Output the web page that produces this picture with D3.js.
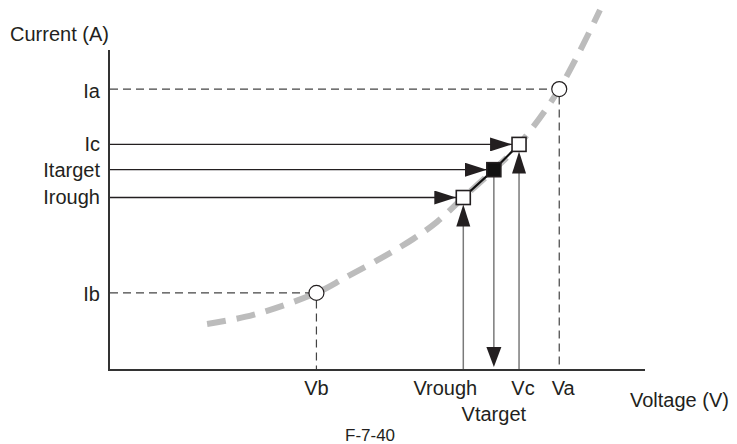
<!DOCTYPE html>
<html>
<head>
<meta charset="utf-8">
<script src="https://cdn.jsdelivr.net/npm/d3@7"></script>
<style>
  html, body { margin: 0; padding: 0; background: #fff; }
  svg { display: block; }
  text { font-family: "Liberation Sans", Arial, Helvetica, sans-serif; fill: #231f20; }
</style>
</head>
<body>
<script>
// Operating points on the V-I characteristic (arbitrary units 0-100)
const voltageNames = ["Vb", "Vrough", "Vtarget", "Vc", "Va"];
const voltageValues = [38.7, 66.1, 71.8, 76.5, 84.0];
const currentNames = ["Ib", "Irough", "Itarget", "Ic", "Ia"];
const currentValues = [24.1, 53.9, 62.6, 70.5, 87.8];

// Characteristic curve samples [voltage, current]
const curveVoltage = [18.3, 26.9, 38.7, 44.0, 51.1, 56.7, 61.2, 66.1, 71.8, 76.5, 84.0, 91.6];
const curveCurrent = [14.4, 17.2, 24.1, 28.8, 35.3, 40.9, 46.3, 53.9, 62.6, 70.5, 87.8, 112.5];

const axisTitles = { y: "Current (A)", x: "Voltage (V)" };
const figureId = "F-7-40";

const W = 737, H = 444;
const svg = d3.select("body").append("svg").attr("width", W).attr("height", H);

const x = d3.scaleLinear().domain([0, 100]).range([109, 645]);
const y = d3.scaleLinear().domain([0, 100]).range([370, 50]);

const V = Object.fromEntries(voltageNames.map((n, i) => [n, voltageValues[i]]));
const I = Object.fromEntries(currentNames.map((n, i) => [n, currentValues[i]]));

// arrowhead marker
const defs = svg.append("defs");
defs.append("marker")
  .attr("id", "head")
  .attr("viewBox", "0 0 22 14")
  .attr("refX", 22).attr("refY", 7)
  .attr("markerUnits", "userSpaceOnUse")
  .attr("markerWidth", 22).attr("markerHeight", 14)
  .attr("orient", "auto")
  .append("path").attr("d", "M0,0 L22,7 L0,14 Z").attr("fill", "#231f20");

// characteristic curve (thick grey dashes)
const curvePts = curveVoltage.map((v, i) => [v, curveCurrent[i]]);
svg.append("path")
  .datum(curvePts)
  .attr("d", d3.line().x(d => x(d[0])).y(d => y(d[1])).curve(d3.curveCatmullRom))
  .attr("fill", "none")
  .attr("stroke", "#bcbcbc")
  .attr("stroke-width", 6)
  .attr("stroke-dasharray", "19,11");

// dashed guides for the two reference points (a, b)
const refPairs = [["Va", "Ia"], ["Vb", "Ib"]];
const R = 7.5;
refPairs.forEach(([vn, in_]) => {
  const cx = x(V[vn]), cy = y(I[in_]);
  svg.append("line")
    .attr("x1", x(0) + 1).attr("x2", cx - R).attr("y1", cy).attr("y2", cy)
    .attr("stroke", "#444").attr("stroke-width", 1.2).attr("stroke-dasharray", "8,5");
  svg.append("line")
    .attr("x1", cx).attr("x2", cx).attr("y1", cy + R).attr("y2", y(0))
    .attr("stroke", "#444").attr("stroke-width", 1.2).attr("stroke-dasharray", "8,5");
});

// measured points: rough, target, c
const S = 14, half = S / 2;
const pts = [["Vrough", "Irough", false], ["Vtarget", "Itarget", true], ["Vc", "Ic", false]];

// horizontal arrows from the current axis
pts.forEach(([vn, in_]) => {
  const cy = y(I[in_]);
  svg.append("line")
    .attr("x1", x(0) + 1).attr("x2", x(V[vn]) - half).attr("y1", cy).attr("y2", cy)
    .attr("stroke", "#231f20").attr("stroke-width", 1.3)
    .attr("marker-end", "url(#head)");
});

// vertical arrows: rough and c pointing up from the voltage axis
[["Vrough", "Irough"], ["Vc", "Ic"]].forEach(([vn, in_]) => {
  const cx = x(V[vn]);
  svg.append("line")
    .attr("x1", cx).attr("x2", cx).attr("y1", y(0)).attr("y2", y(I[in_]) + half + 20)
    .attr("stroke", "#7a7a7a").attr("stroke-width", 1.5);
  svg.append("path")
    .attr("d", `M${cx - 7},${y(I[in_]) + half + 22} L${cx},${y(I[in_]) + half} L${cx + 7},${y(I[in_]) + half + 22} Z`)
    .attr("fill", "#231f20");
});

// target: down arrow to the voltage axis
{
  const cx = x(V.Vtarget);
  const top = y(I.Itarget) + half, tip = y(0) - 3;
  svg.append("line")
    .attr("x1", cx).attr("x2", cx).attr("y1", top).attr("y2", tip - 18)
    .attr("stroke", "#7a7a7a").attr("stroke-width", 1.5);
  svg.append("path")
    .attr("d", `M${cx - 7.5},${tip - 20} L${cx},${tip} L${cx + 7.5},${tip - 20} Z`)
    .attr("fill", "#231f20");
}

// segment joining the measured points
svg.append("path")
  .datum(pts)
  .attr("d", d3.line().x(d => x(V[d[0]])).y(d => y(I[d[1]])))
  .attr("fill", "none").attr("stroke", "#111").attr("stroke-width", 2.2);

// squares
svg.selectAll("rect.pt").data(pts).join("rect")
  .attr("class", "pt")
  .attr("x", d => x(V[d[0]]) - half).attr("y", d => y(I[d[1]]) - half)
  .attr("width", S).attr("height", S)
  .attr("fill", d => d[2] ? "#111" : "#fff")
  .attr("stroke", "#231f20").attr("stroke-width", 1.6);

// circles for reference points
svg.selectAll("circle.ref").data(refPairs).join("circle")
  .attr("class", "ref")
  .attr("cx", d => x(V[d[0]])).attr("cy", d => y(I[d[1]]))
  .attr("r", R).attr("fill", "#fff").attr("stroke", "#231f20").attr("stroke-width", 1.2);

// axes
svg.append("path")
  .attr("d", `M${x(0)},${y(100)} L${x(0)},${y(0)} L${x(100)},${y(0)}`)
  .attr("fill", "none").attr("stroke", "#333").attr("stroke-width", 2);

// current labels
const yLabelDy = { Ia: 9, Ib: 8, Ic: 7, Itarget: 7.5, Irough: 6.5 };
svg.selectAll("text.ylab").data(currentNames).join("text")
  .attr("class", "ylab")
  .attr("x", 100).attr("y", d => y(I[d]) + yLabelDy[d])
  .attr("text-anchor", "end").attr("font-size", 20)
  .text(d => d);

// voltage labels
const xLabelDx = { Vb: 0, Vrough: -18, Vtarget: 0, Vc: 4, Va: 4 };
svg.selectAll("text.xlab").data(voltageNames).join("text")
  .attr("class", "xlab")
  .attr("x", d => x(V[d]) + xLabelDx[d])
  .attr("y", d => d === "Vtarget" ? 421 : 395)
  .attr("text-anchor", "middle").attr("font-size", 20)
  .text(d => d);

svg.append("text").attr("x", 10).attr("y", 41).attr("font-size", 20).text(axisTitles.y);
svg.append("text").attr("x", 630).attr("y", 407).attr("font-size", 20).text(axisTitles.x);

svg.append("text").attr("x", 345).attr("y", 441).attr("font-size", 17).text(figureId);
</script>
</body>
</html>
